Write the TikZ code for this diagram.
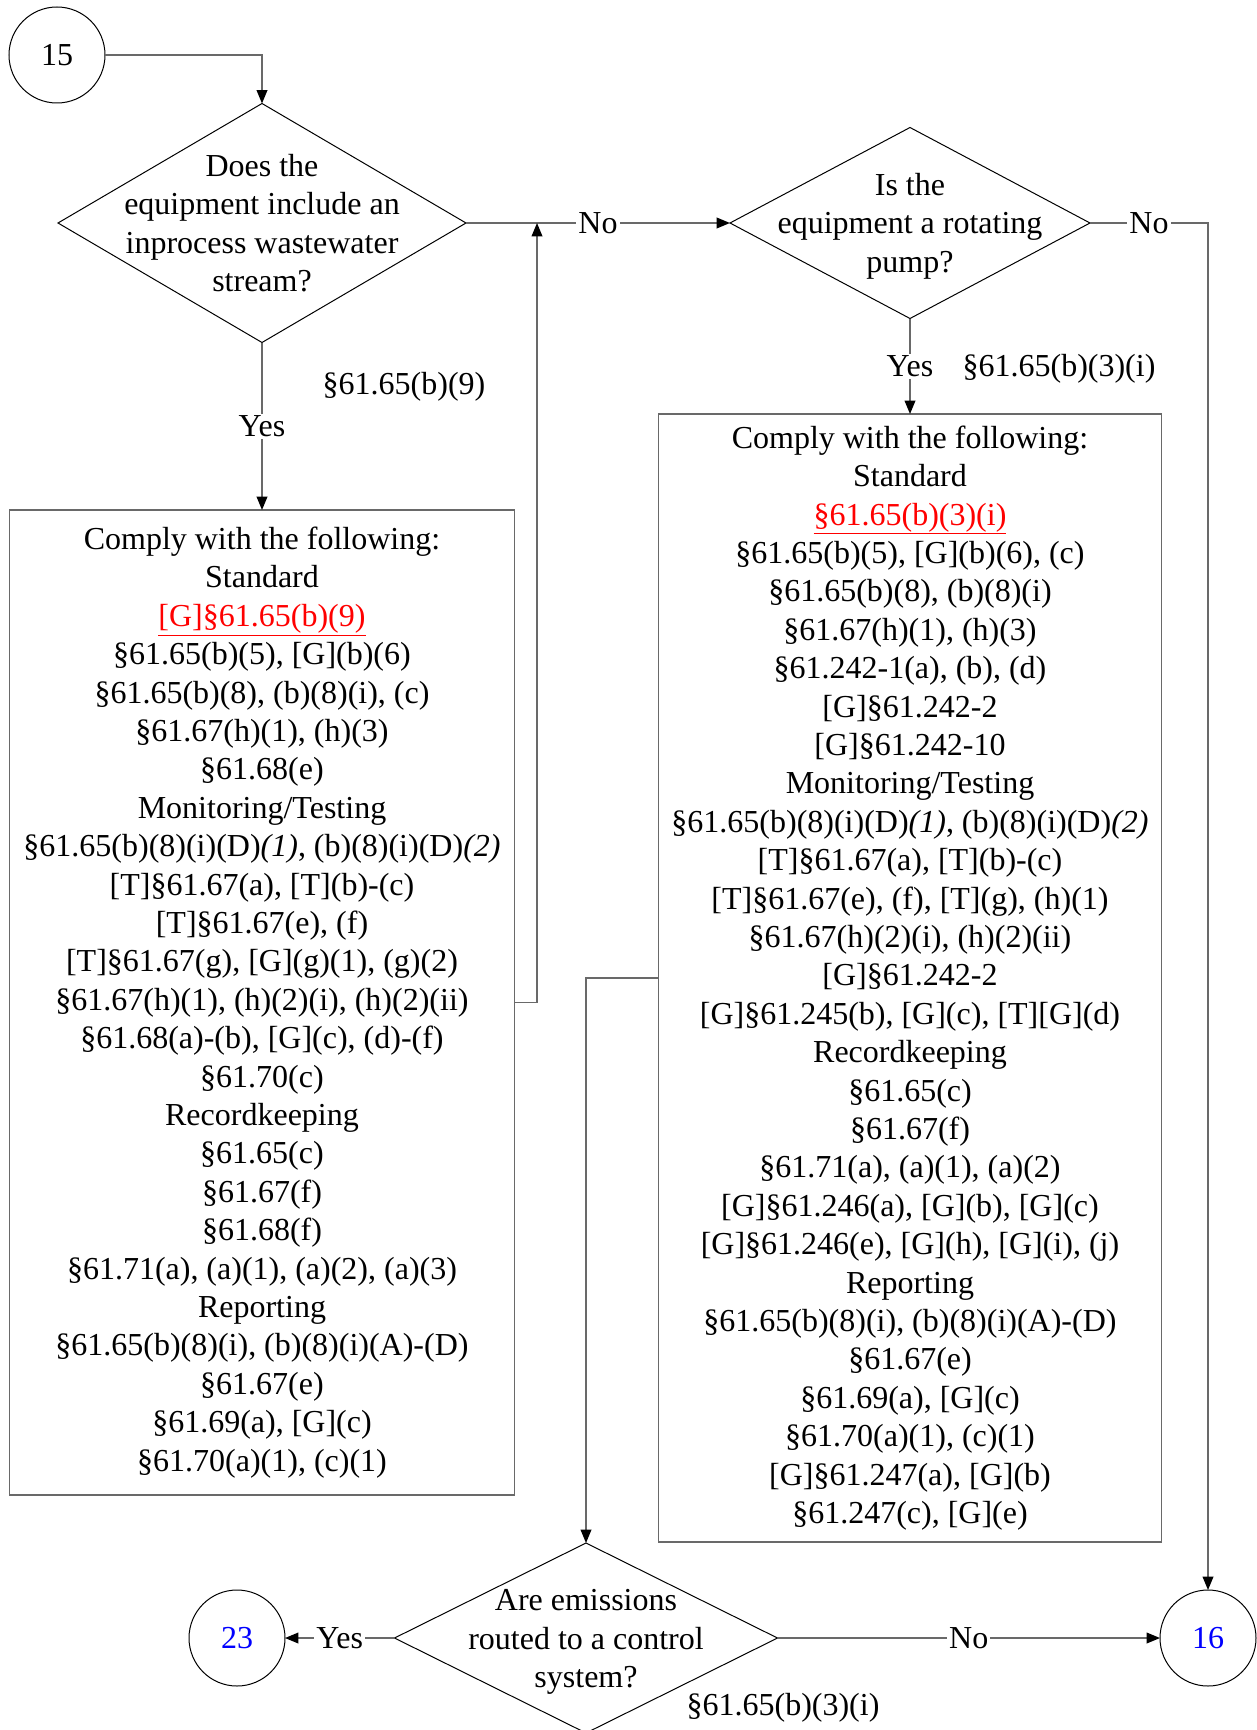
\documentclass[tikz,border=0pt]{standalone}
\usepackage{fontspec}
\setmainfont{Liberation Serif}
\usetikzlibrary{shapes.geometric,arrows.meta,calc}
\definecolor{connc}{RGB}{105,105,105}
\definecolor{pureblue}{RGB}{0,0,255}
\definecolor{purered}{RGB}{255,0,0}
\newcommand\redlink[1]{\textcolor{purered}{\underline{#1}}}
\begin{document}
\begin{tikzpicture}[x=0.75pt,y=-0.75pt,
  txt/.style={font=\fontsize{24}{28.8}\selectfont, align=center, inner sep=0pt},
  dia/.style={draw=black, line width=0.75pt, diamond, inner sep=0pt, outer sep=0pt},
  circ/.style={draw=black, line width=0.75pt, circle, minimum size=96*0.75pt, inner sep=0pt, outer sep=0pt, font=\fontsize{24}{28.8}\selectfont},
  boxst/.style={draw=connc, line width=1.1pt, rectangle, inner sep=0pt, outer sep=0pt, align=center, font=\fontsize{24}{28.8}\selectfont},
  conn/.style={draw=connc, line width=1.1pt, -{Triangle[length=10pt,width=8pt,color=black]}},
  lbl/.style={fill=white, inner sep=1.5pt, font=\fontsize{24}{28.8}\selectfont}
]
\useasboundingbox (0,0) rectangle (1256,1730);

% nodes
\node[circ] (c15) at (57,55) {15};
\node[dia, minimum width=408*0.75pt, minimum height=239*0.75pt] (d1) at (262,223) {};
\node[txt] (d1t) at (262,223) {Does the\\equipment include an\\inprocess wastewater\\stream?};

\node[dia, minimum width=360*0.75pt, minimum height=191*0.75pt] (d2) at (910,223) {};
\node[txt] (d2t) at (910,226) {Is the\\equipment a rotating\\pump?};

\node[boxst, minimum width=505*0.75pt, minimum height=985*0.75pt] (boxL) at (262,1002.5) {Comply with the following:\\
Standard\\
\redlink{[G]§61.65(b)(9)}\\
§61.65(b)(5), [G](b)(6)\\
§61.65(b)(8), (b)(8)(i), (c)\\
§61.67(h)(1), (h)(3)\\
§61.68(e)\\
Monitoring/Testing\\
§61.65(b)(8)(i)(D)\textit{(1)}, (b)(8)(i)(D)\textit{(2)}\\
{}[T]§61.67(a), [T](b)-(c)\\
{}[T]§61.67(e), (f)\\
{}[T]§61.67(g), [G](g)(1), (g)(2)\\
§61.67(h)(1), (h)(2)(i), (h)(2)(ii)\\
§61.68(a)-(b), [G](c), (d)-(f)\\
§61.70(c)\\
Recordkeeping\\
§61.65(c)\\
§61.67(f)\\
§61.68(f)\\
§61.71(a), (a)(1), (a)(2), (a)(3)\\
Reporting\\
§61.65(b)(8)(i), (b)(8)(i)(A)-(D)\\
§61.67(e)\\
§61.69(a), [G](c)\\
§61.70(a)(1), (c)(1)};

\node[boxst, minimum width=503*0.75pt, minimum height=1128*0.75pt] (boxR) at (910,978) {Comply with the following:\\
Standard\\
\redlink{§61.65(b)(3)(i)}\\
§61.65(b)(5), [G](b)(6), (c)\\
§61.65(b)(8), (b)(8)(i)\\
§61.67(h)(1), (h)(3)\\
§61.242-1(a), (b), (d)\\
{}[G]§61.242-2\\
{}[G]§61.242-10\\
Monitoring/Testing\\
§61.65(b)(8)(i)(D)\textit{(1)}, (b)(8)(i)(D)\textit{(2)}\\
{}[T]§61.67(a), [T](b)-(c)\\
{}[T]§61.67(e), (f), [T](g), (h)(1)\\
§61.67(h)(2)(i), (h)(2)(ii)\\
{}[G]§61.242-2\\
{}[G]§61.245(b), [G](c), [T][G](d)\\
Recordkeeping\\
§61.65(c)\\
§61.67(f)\\
§61.71(a), (a)(1), (a)(2)\\
{}[G]§61.246(a), [G](b), [G](c)\\
{}[G]§61.246(e), [G](h), [G](i), (j)\\
Reporting\\
§61.65(b)(8)(i), (b)(8)(i)(A)-(D)\\
§61.67(e)\\
§61.69(a), [G](c)\\
§61.70(a)(1), (c)(1)\\
{}[G]§61.247(a), [G](b)\\
§61.247(c), [G](e)};

\node[dia, minimum width=383*0.75pt, minimum height=190*0.75pt] (d3) at (586,1638) {};
\node[txt] (d3t) at (586,1642) {Are emissions\\routed to a control\\system?};

\node[circ, text=pureblue] (c23) at (237,1638) {23};
\node[circ, text=pureblue] (c16) at (1208,1638) {16};

\node[txt] (ref1) at (404,387) {§61.65(b)(9)};
\node[txt] (ref2) at (1059,369) {§61.65(b)(3)(i)};
\node[txt] (ref3) at (783,1708) {§61.65(b)(3)(i)};

\coordinate (j1) at (537,223);

% connectors
\draw[conn] (c15) -| (d1);
\draw[conn] (d1) -- node[lbl]{Yes} (boxL);
\draw[conn] (d1.east) -- node[lbl]{No} (d2.west);
\draw[conn] (boxL.east) -| (j1);
\draw[conn] (d2.east) -| node[lbl,pos=0.25]{No} (c16);
\draw[conn] (d2) -- node[lbl]{Yes} (boxR);
\draw[conn] (boxR.west) -| (d3);
\draw[conn] (d3) -- node[lbl]{Yes} (c23);
\draw[conn] (d3) -- node[lbl]{No} (c16);
\end{tikzpicture}
\end{document}
